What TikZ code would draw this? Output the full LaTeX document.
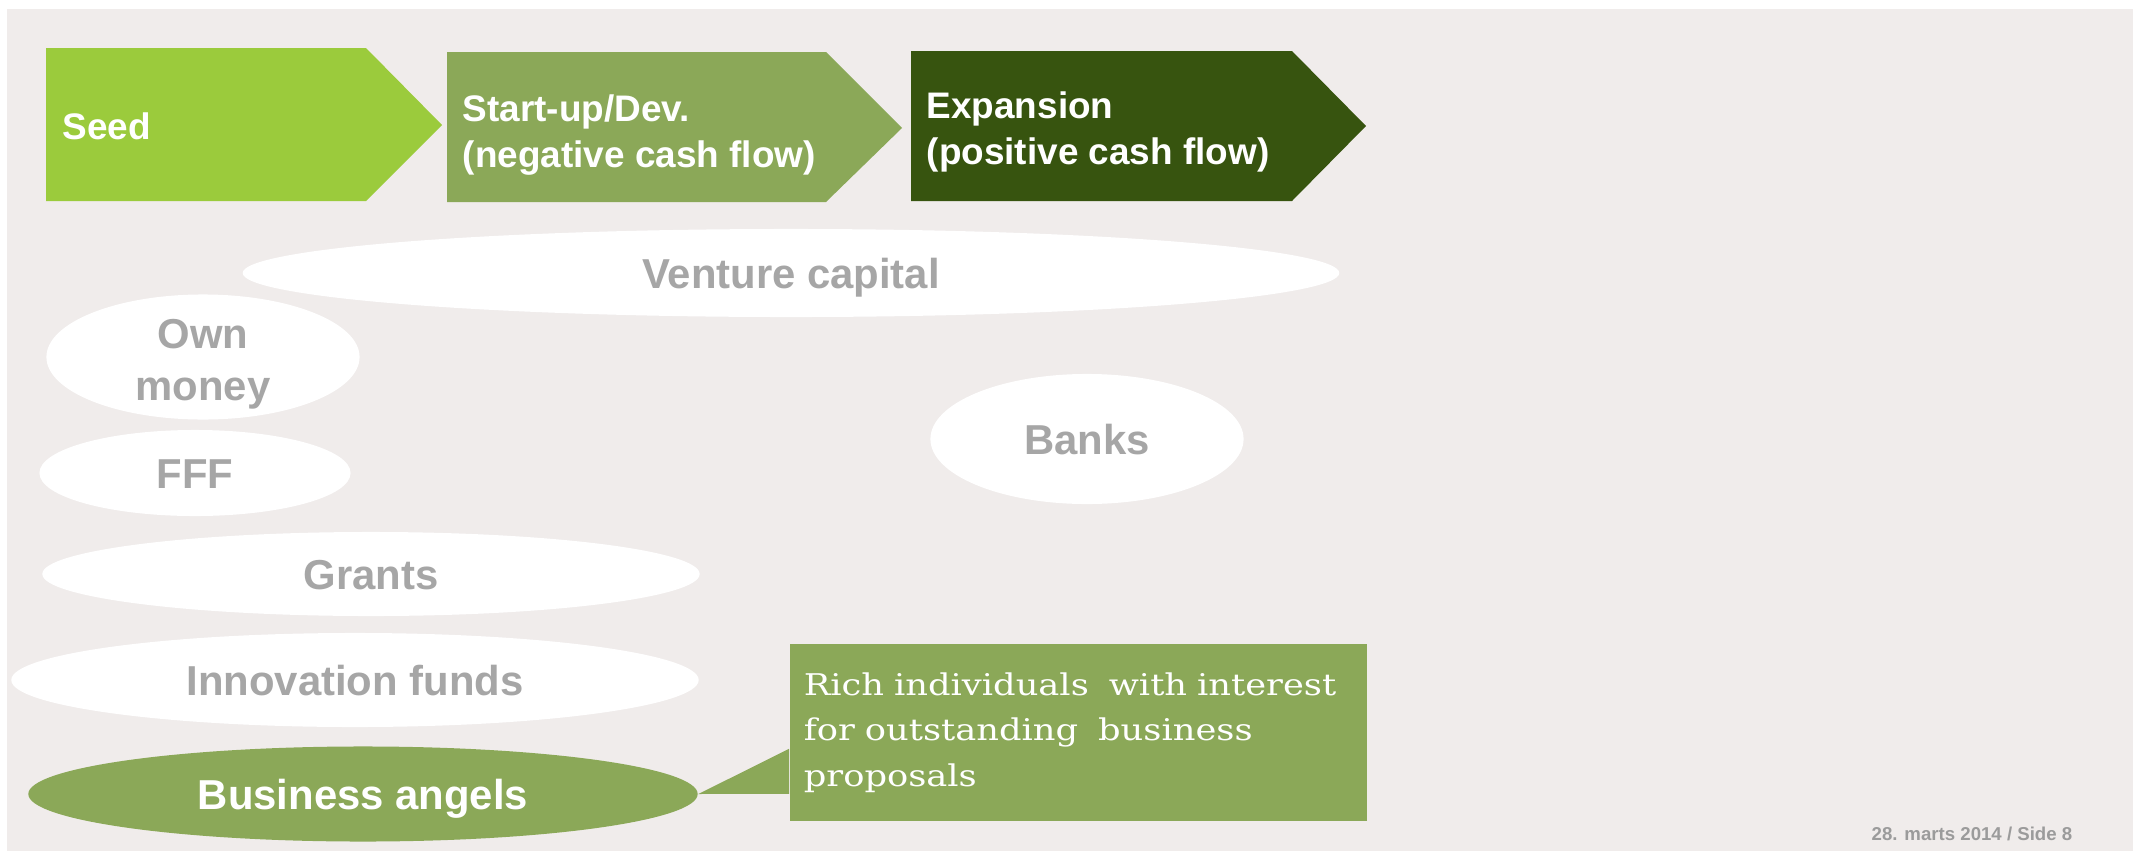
\documentclass[tikz,border=0pt]{standalone}
\usepackage{fontspec}
\setmainfont{Liberation Sans}
\newfontfamily\notefont[FakeStretch = 1.18]{DejaVu Serif}
\usetikzlibrary{
    calc,
    positioning,
    shapes.geometric
}
\definecolor{slidebg}{HTML}{F0ECEB}
\definecolor{seedgreen}{HTML}{9BCB3C}
\definecolor{devgreen}{HTML}{8BA858}
\definecolor{expgreen}{HTML}{37540F}
\definecolor{pillgray}{HTML}{A6A6A6}
\definecolor{dategray}{HTML}{9B9B9B}
\tikzset{
    every picture/.style = {
        x = 0.01cm,
        y = -0.01cm
    },
    stagetext/.style = {
        inner sep = 0pt,
        anchor = west,
        align = left,
        text = white,
        font = \fontsize{10.5pt}{13.2pt}\selectfont\bfseries
    },
    pill/.style = {
        ellipse,
        fill = white,
        inner sep = 0pt
    },
    pilltext/.style = {
        inner sep = 0pt,
        align = center,
        text = pillgray,
        font = \fontsize{11.9pt}{14.8pt}\selectfont\bfseries
    },
    pillline/.style = {
        pilltext,
        text height = 8.6pt,
        text depth = 0pt
    },
    notebox/.style = {
        rectangle,
        fill = devgreen,
        minimum width = 5.77cm,
        minimum height = 1.77cm,
        text width = 5.49cm,
        inner xsep = 0.14cm,
        inner ysep = 0pt,
        align = left,
        text = white,
        font = \notefont\fontsize{8.5pt}{12.9pt}\selectfont
    }
}

\begin{document}
\begin{tikzpicture}

    \fill[white] (0, 0) rectangle (2141, 851);
    \fill[slidebg] (7, 9) rectangle (2133, 851);

    % stages
    \fill[seedgreen] (46, 48) -- (366, 48) -- (442, 125) -- (366, 201) -- (46, 201) -- cycle;
    \node[stagetext] (seed) at (62, 126) {Seed};

    \fill[devgreen] (447, 52) -- (826, 52) -- (902, 128) -- (826, 202) -- (447, 202) -- cycle;
    \node[stagetext] (dev) at (462, 135) {Start-up/Dev.\\(negative cash flow)};

    \fill[expgreen] (911, 51) -- (1292, 51) -- (1366, 126) -- (1292, 201) -- (911, 201) -- cycle;
    \node[stagetext] (exp) at (926, 132) {Expansion\\(positive cash flow)};

    % sources of money
    \node[pill, minimum width = 10.96cm, minimum height = 0.88cm] (vc) at (791, 273) {};
    \node[pillline] (vc-t) at (vc) {Venture capital};

    \node[pill, minimum width = 3.13cm, minimum height = 1.25cm] (own) at (203, 357) {};
    \node[pilltext] (own-t) at (203, 364) {Own\\money};

    \node[pill, minimum width = 3.13cm, minimum height = 1.30cm] (banks) at (1087, 439) {};
    \node[pillline] (banks-t) at (banks) {Banks};

    \node[pill, minimum width = 3.11cm, minimum height = 0.86cm] (fff) at (195, 473) {};
    \node[pillline] (fff-t) at (fff) {FFF};

    \node[pill, minimum width = 6.57cm, minimum height = 0.84cm] (grants) at (371, 574) {};
    \node[pillline] (grants-t) at (grants) {Grants};

    \node[pill, minimum width = 6.87cm, minimum height = 0.94cm] (innov) at (355, 680) {};
    \node[pillline] (innov-t) at (innov) {Innovation funds};

    \node[pill, fill = devgreen, minimum width = 6.69cm, minimum height = 0.95cm] (angels) at (363, 794) {};
    \node[pillline, text = white] (angels-t) at (angels) {Business angels};

    \node[notebox] (note) at (1078.5, 732.5) {Rich individuals\ \ with interest\\for outstanding\ \ business\\proposals};
    \fill[devgreen] ($(note.south west) + (0, -73)$) -- (angels.east) -- ($(note.south west) + (0, -28)$) -- cycle;

    \node[inner sep = 0pt, anchor = base east, text = dategray, font = \fontsize{5.3pt}{6pt}\selectfont\bfseries] (date) at (2073, 840) {28. marts 2014 / Side 8};

\end{tikzpicture}
\end{document}
